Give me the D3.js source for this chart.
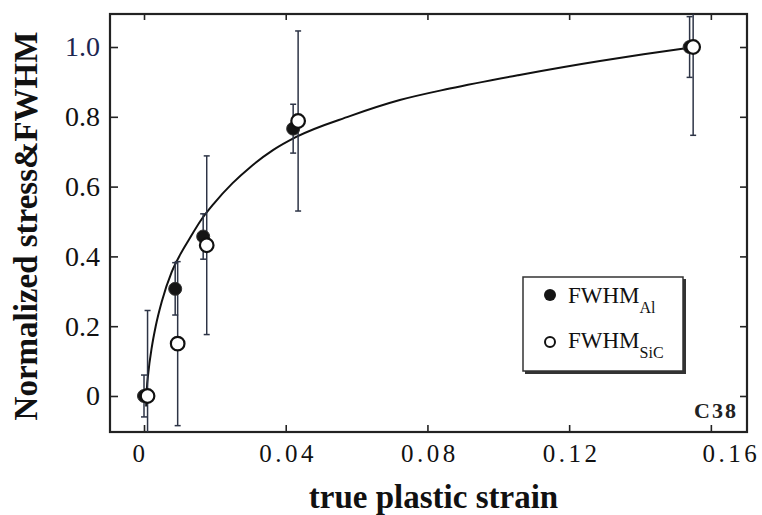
<!DOCTYPE html>
<html>
<head>
<meta charset="utf-8">
<script src="https://cdn.jsdelivr.net/npm/d3@7"></script>
<style>
  body { margin: 0; background: #fff; }
  text { font-family: "Liberation Serif", "Times New Roman", serif; }
</style>
</head>
<body>
<div id="chart"></div>
<script>
// ---- data ----
const xTicks = [0, 0.04, 0.08, 0.12, 0.16];
const xTickLabels = ['0', '0.04', '0.08', '0.12', '0.16'];
const yTicks = [0, 0.2, 0.4, 0.6, 0.8, 1.0];
const yTickLabels = ['0', '0.2', '0.4', '0.6', '0.8', '1.0'];

// FWHM Al (filled)
const alStrain = [0.0, 0.0088, 0.0167, 0.0421, 0.154];
const alValue = [0.0, 0.307, 0.457, 0.766, 1.0];
const alErr = [0.06, 0.075, 0.065, 0.07, 0.087];

// FWHM SiC (open)
const sicStrain = [0.001, 0.0095, 0.0177, 0.0435, 0.155];
const sicValue = [0.0, 0.15, 0.432, 0.788, 1.0];
const sicErr = [0.245, 0.235, 0.256, 0.258, 0.253];

// normalized stress curve
const curveStrain = [0.0006, 0.0008, 0.0012, 0.0022, 0.0033, 0.005, 0.0078, 0.0102, 0.0125,
    0.0165, 0.0196, 0.025, 0.0299, 0.0365, 0.0431, 0.0581, 0.0722, 0.0863, 0.106, 0.1287, 0.141, 0.154];
const curveValue = [-0.03, 0.02, 0.065, 0.14, 0.2, 0.27, 0.355, 0.405, 0.445,
    0.51, 0.55, 0.61, 0.655, 0.705, 0.743, 0.802, 0.848, 0.881, 0.92, 0.96, 0.979, 0.998];

const width = 762, height = 515;
const plotLeft = 110, plotRight = 747, plotTop = 14, plotBottom = 432;

const svg = d3.select('#chart')
    .append('svg')
    .attr('width', width)
    .attr('height', height);

const x = d3.scaleLinear().domain([-0.0096, 0.1702]).range([plotLeft, plotRight]);
const y = d3.scaleLinear().domain([-0.1032, 1.0946]).range([plotBottom, plotTop]);

svg.append('clipPath')
    .attr('id', 'plotClip')
    .append('rect')
    .attr('x', plotLeft).attr('y', plotTop)
    .attr('width', plotRight - plotLeft).attr('height', plotBottom - plotTop);

// axes, ticks pointing inward on all four sides
const xAxis = svg.append('g')
    .attr('transform', `translate(0,${plotBottom})`)
    .call(d3.axisBottom(x).tickValues(xTicks).tickSize(-7).tickPadding(12)
        .tickFormat((d, i) => xTickLabels[i]));
// the first and last labels sit a little off their ticks in the original
const labelShift = [-4, 2, 2, 2, 20];
xAxis.selectAll('text')
    .attr('font-size', 25)
    .attr('letter-spacing', 3.5)
    .attr('dx', (d, i) => labelShift[i])
    .attr('fill', '#111');

const yAxis = svg.append('g')
    .attr('transform', `translate(${plotLeft},0)`)
    .call(d3.axisLeft(y).tickValues(yTicks).tickSize(-8).tickPadding(10)
        .tickFormat((d, i) => yTickLabels[i]));
yAxis.selectAll('text')
    .attr('font-size', 28)
    .attr('fill', (d) => d === 1.0 ? '#1c2650' : '#111');

svg.append('g')
    .attr('transform', `translate(0,${plotTop})`)
    .call(d3.axisTop(x).tickValues(xTicks).tickSize(-6).tickFormat(''));
svg.append('g')
    .attr('transform', `translate(${plotRight},0)`)
    .call(d3.axisRight(y).tickValues(yTicks).tickSize(-7).tickFormat(''));

svg.selectAll('.domain').remove();
svg.selectAll('.tick line').attr('stroke', '#222').attr('stroke-width', 1.6);

svg.append('rect')
    .attr('x', plotLeft).attr('y', plotTop)
    .attr('width', plotRight - plotLeft).attr('height', plotBottom - plotTop)
    .attr('fill', 'none')
    .attr('stroke', '#222')
    .attr('stroke-width', 2.2);

// axis titles
svg.append('text')
    .attr('x', (plotLeft + plotRight) / 2 + 5)
    .attr('y', 508)
    .attr('text-anchor', 'middle')
    .attr('font-size', 33)
    .attr('font-weight', 'bold')
    .attr('fill', '#111')
    .text('true plastic strain');

svg.append('text')
    .attr('transform', `translate(37,${(plotTop + plotBottom) / 2 + 3}) rotate(-90)`)
    .attr('text-anchor', 'middle')
    .attr('font-size', 33)
    .attr('font-weight', 'bold')
    .attr('fill', '#111')
    .text('Normalized stress&FWHM');

svg.append('text')
    .attr('x', 738)
    .attr('y', 418)
    .attr('text-anchor', 'end')
    .attr('font-size', 22)
    .attr('font-weight', 'bold')
    .attr('letter-spacing', 2)
    .attr('fill', '#222')
    .text('C38');

const plot = svg.append('g').attr('clip-path', 'url(#plotClip)');

// fitted curve
const line = d3.line()
    .x((d, i) => x(curveStrain[i]))
    .y((d) => y(d))
    .curve(d3.curveMonotoneX);
plot.append('path')
    .datum(curveValue)
    .attr('d', line)
    .attr('fill', 'none')
    .attr('stroke', '#111')
    .attr('stroke-width', 2);

// error bars
const drawErrors = (xs, ys, es) => {
    const g = plot.append('g')
        .attr('stroke', '#2d3446')
        .attr('stroke-width', 1.5);
    xs.forEach((sx, i) => {
        const cx = x(sx);
        const hi = y(ys[i] + es[i]);
        const lo = y(ys[i] - es[i]);
        g.append('line').attr('x1', cx).attr('x2', cx).attr('y1', hi).attr('y2', lo);
        g.append('line').attr('x1', cx - 3).attr('x2', cx + 3).attr('y1', hi).attr('y2', hi);
        g.append('line').attr('x1', cx - 3).attr('x2', cx + 3).attr('y1', lo).attr('y2', lo);
    });
};
drawErrors(alStrain, alValue, alErr);
drawErrors(sicStrain, sicValue, sicErr);

plot.selectAll('.al')
    .data(alValue)
    .enter()
    .append('circle')
    .attr('class', 'al')
    .attr('cx', (d, i) => x(alStrain[i]))
    .attr('cy', (d) => y(d))
    .attr('r', 6.5)
    .attr('fill', '#151515')
    .attr('stroke', '#333')
    .attr('stroke-width', 1);

plot.selectAll('.sic')
    .data(sicValue)
    .enter()
    .append('circle')
    .attr('class', 'sic')
    .attr('cx', (d, i) => x(sicStrain[i]))
    .attr('cy', (d) => y(d))
    .attr('r', 6.8)
    .attr('fill', '#fff')
    .attr('stroke', '#111')
    .attr('stroke-width', 2.2);

// legend
const legend = svg.append('g').attr('transform', 'translate(523,277)');
legend.append('rect')
    .attr('x', 2).attr('y', 2)
    .attr('width', 161).attr('height', 95)
    .attr('fill', '#333');
legend.append('rect')
    .attr('width', 160).attr('height', 94)
    .attr('fill', '#fff')
    .attr('stroke', '#333')
    .attr('stroke-width', 1.5);

legend.append('circle')
    .attr('cx', 27).attr('cy', 18)
    .attr('r', 6)
    .attr('fill', '#151515');
legend.append('circle')
    .attr('cx', 27).attr('cy', 65)
    .attr('r', 5)
    .attr('fill', '#fff')
    .attr('stroke', '#111')
    .attr('stroke-width', 2);

const entry = (ty, main, sub) => {
    const t = legend.append('text')
        .attr('x', 45)
        .attr('y', ty)
        .attr('font-size', 23)
        .attr('fill', '#111');
    t.append('tspan').text(main);
    t.append('tspan')
        .attr('dy', 10)
        .attr('font-size', 16)
        .text(sub);
};
entry(26, 'FWHM', 'Al');
entry(71, 'FWHM', 'SiC');
</script>
</body>
</html>
